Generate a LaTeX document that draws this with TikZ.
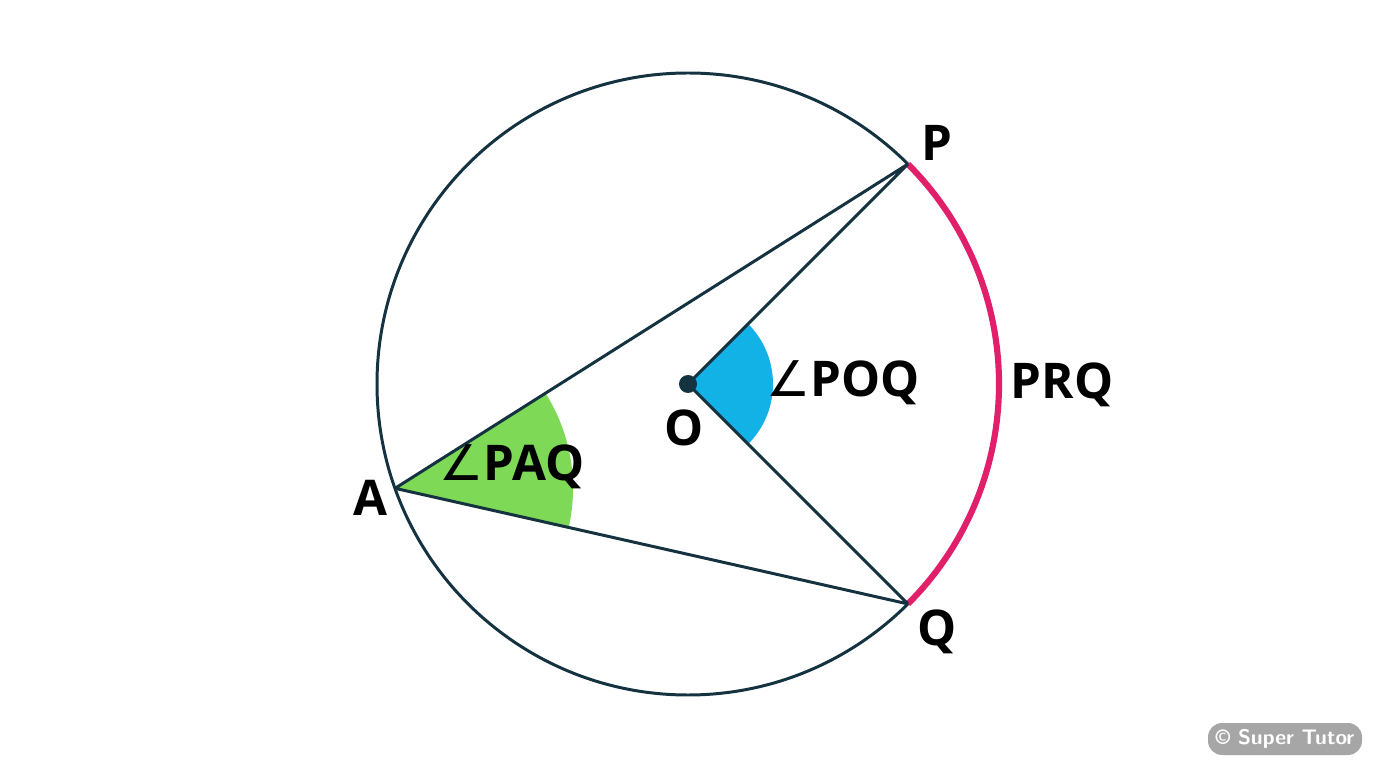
\documentclass[tikz,border=0pt]{standalone}
\usetikzlibrary{calc}
\usepackage{fontspec}
\setmainfont{Open Sans}
\newfontfamily\dv{DejaVu Sans}
\definecolor{ink}{HTML}{14323F}
\definecolor{grn}{HTML}{7ED957}
\definecolor{blu}{HTML}{12B2E6}
\definecolor{rd}{HTML}{E0206A}
\begin{document}
\begin{tikzpicture}[x=0.02cm,y=0.02cm,
  lbl/.style={font=\fontsize{28}{30}\selectfont\bfseries, text=black, inner sep=0},
  ln/.style={draw=ink, line width=1.7pt}]
\useasboundingbox (0,0) rectangle (1376,768);
\coordinate (O) at (688,384);
\coordinate (P) at ($(O)+(45:311)$);
\coordinate (Q) at ($(O)+(-45:311)$);
\coordinate (A) at ($(O)+(199.6:311)$);
\fill[grn] (A) -- ++(32.3:178) arc[start angle=32.3,end angle=-13.1,radius=178] -- cycle;
\fill[blu] (O) -- ++(45:85) arc[start angle=45,end angle=-45,radius=85] -- cycle;
\draw[ln] (O) circle[radius=311];
\draw[rd, line width=3.5pt] (Q) arc[start angle=-45,end angle=45,radius=311];
\draw[ln] (A) -- (P) (A) -- (Q) (O) -- (P) (O) -- (Q);
\fill[ink] (O) circle[radius=9];
\node[lbl] (lP) at (937,625) {P};
\node[lbl] (lQ) at (937,136) {Q};
\node[lbl] (lA) at (370,270) {A};
\node[lbl] (lO) at (684,340) {O};
\node[lbl] (lR) at (1062,383) {PRQ};
\node[lbl] (lPOQ) at (843,385) {{\dv\mdseries ∠}POQ};
\node[lbl] (lPAQ) at (512,301) {{\dv\mdseries ∠}PAQ};
\node[fill=gray!70, rounded corners=8pt, minimum width=154*0.02cm, minimum height=32*0.02cm, text=white, font=\sffamily\bfseries\large] (wm) at (1285,29) {© Super Tutor};
\end{tikzpicture}
\end{document}
